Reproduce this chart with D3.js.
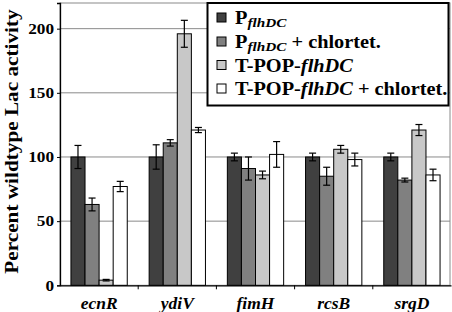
<!DOCTYPE html>
<html><head><meta charset="utf-8">
<script src="https://cdn.jsdelivr.net/npm/d3@7"></script>
<style>body{margin:0;background:#fff}svg{display:block}
text{font-family:"Liberation Serif","Times New Roman",Times,serif}</style>
</head><body>
<svg id="c" width="452" height="312"></svg>
<script>
const categories = ["ecnR","ydiV","fimH","rcsB","srgD"];
const seriesNames = ["PflhDC","PflhDC + chlortet.","T-POP-flhDC","T-POP-flhDC + chlortet."];
const s1 = [100,100,100,100,100];
const s2 = [63,111,91,85,82];
const s3 = [4,196,86,106,121];
const s4 = [77,121,102,98,86];
const e1 = [9,9.5,3,3,3];
const e2 = [5,2.5,9,7,1.5];
const e3 = [0.6,10.5,3,3,4.3];
const e4 = [4,2,10,5,4.5];
const yTicks = [0,50,100,150,200];
const colors = ["#404040","#808080","#c8c8c8","#ffffff"];

const values = [s1,s2,s3,s4], errs = [e1,e2,e3,e4];
const svg = d3.select("#c");
const L = 60, R = 451, T = 3, B = 285.3;
const y = d3.scaleLinear().domain([0,220]).range([B,T]);
const x0 = d3.scaleBand().domain(categories).range([L,R]);
const bw = x0.bandwidth();
const x1 = d3.scaleBand().domain(d3.range(4)).range([bw*0.14, bw*0.86]);

// plot frame + grid
svg.append("rect").attr("x",L).attr("y",T).attr("width",R-L-1).attr("height",B-T)
  .attr("fill","none").attr("stroke","#8a8a8a").attr("stroke-width",1);
svg.append("g").selectAll("line").data(yTicks.filter(d=>d>0)).join("line")
  .attr("x1",L).attr("x2",R-1).attr("y1",d=>y(d)).attr("y2",d=>y(d))
  .attr("stroke","#8a8a8a").attr("stroke-width",1);

// bars
const groups = svg.append("g").selectAll("g").data(categories).join("g")
  .attr("transform",c=>`translate(${x0(c)},0)`);
groups.each(function(c,ci){
  const g = d3.select(this);
  for(let s=0;s<4;s++){
    const v = values[s][ci], e = errs[s][ci];
    const bx = x1(s), w = x1.bandwidth();
    g.append("rect").attr("x",bx).attr("y",y(v)).attr("width",w).attr("height",y(0)-y(v))
      .attr("fill",colors[s]).attr("stroke","#000").attr("stroke-width",1);
    const cx = bx + w/2;
    g.append("line").attr("x1",cx).attr("x2",cx).attr("y1",y(v+e)).attr("y2",y(v-e))
      .attr("stroke","#000").attr("stroke-width",1.2);
    [v+e,v-e].forEach(t=>g.append("line").attr("x1",cx-3.5).attr("x2",cx+3.5)
      .attr("y1",y(t)).attr("y2",y(t)).attr("stroke","#000").attr("stroke-width",1.2));
  }
});

// y axis
const yAxis = svg.append("g").attr("transform",`translate(${L},0)`)
  .call(d3.axisLeft(y).tickValues(yTicks).tickSize(3).tickPadding(3));
yAxis.select(".domain").attr("stroke","#000").attr("stroke-width",1.3);
yAxis.selectAll(".tick line").attr("stroke","#000");
yAxis.selectAll(".tick text").each(function(){
  const t = d3.select(this);
  const xx = +t.attr("x");
  t.attr("font-family",null).attr("font-weight","bold").attr("font-size","15px")
   .attr("fill","#000").attr("x",null)
   .attr("transform",`translate(${xx},0) scale(1.15,1)`);
});

// x axis
const xAxis = svg.append("g").attr("transform",`translate(0,${B})`)
  .call(d3.axisBottom(x0).tickSize(0).tickPadding(0));
xAxis.select(".domain").attr("stroke","#000").attr("stroke-width",1.3);
xAxis.selectAll("text").attr("font-family",null).attr("font-weight","bold")
  .attr("font-style","italic").attr("font-size","17.5px").attr("fill","#000")
  .attr("dy",null).attr("y",24);
svg.append("g").selectAll("line").data(categories.slice(1)).join("line")
  .attr("x1",c=>x0(c)).attr("x2",c=>x0(c)).attr("y1",B).attr("y2",B+4)
  .attr("stroke","#000");

// y title
svg.append("text").attr("transform",`translate(17.5,141.5) rotate(-90) scale(1.09,1)`)
  .attr("text-anchor","middle")
  .attr("font-weight","bold").attr("font-size","19.5px").text("Percent wildtype Lac activity");

// legend
const lg = svg.append("g");
lg.append("rect").attr("x",207.5).attr("y",3).attr("width",241).attr("height",102.5)
  .attr("fill","#fff").attr("stroke","#000").attr("stroke-width",2);
const rowsY = [17.5,41.5,65,88.5];
seriesNames.forEach((n,i)=>{
  const cy = rowsY[i];
  lg.append("rect").attr("x",217).attr("y",cy-4.5).attr("width",9).attr("height",9)
    .attr("fill",colors[i]).attr("stroke","#000").attr("stroke-width",1);
  const t = lg.append("text").attr("transform",`translate(235,${cy+6.5}) scale(1.13,1)`)
    .attr("font-weight","bold").attr("font-size","18px");
  if(i<2){
    t.append("tspan").text("P");
    t.append("tspan").attr("font-style","italic").attr("font-size","13.5px").attr("dy",3).text("flhDC");
    if(i===1) t.append("tspan").attr("dy",-3).text(" + chlortet.");
  } else {
    t.append("tspan").text("T-POP-");
    t.append("tspan").attr("font-style","italic").text("flhDC");
    if(i===3) t.append("tspan").text(" + chlortet.");
  }
});
</script>
</body></html>
